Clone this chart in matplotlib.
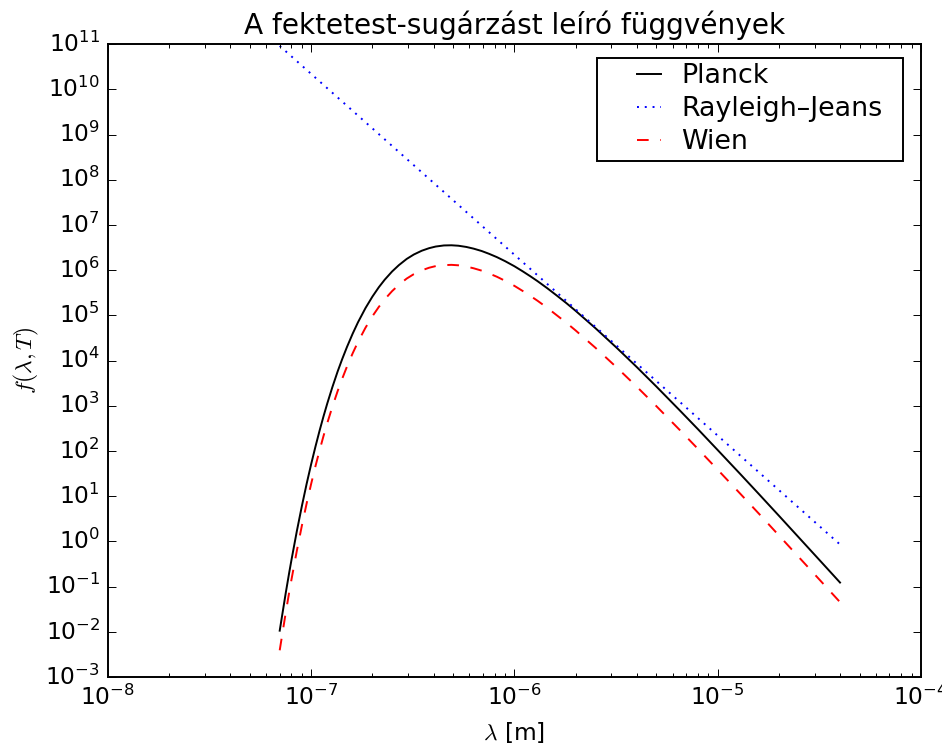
import matplotlib
matplotlib.use('Agg')
import matplotlib.pyplot as plt
from matplotlib.ticker import LogLocator
from matplotlib.legend_handler import HandlerLine2D

# wavelength grid [m]
wavelength = [7e-8, 7.5e-8, 7.8e-8, 8e-8, 8.5e-8, 9e-8, 9.5e-8, 1e-7, 1.05e-7, 1.1e-7,
              1.15e-7, 1.2e-7, 1.27e-7, 1.35e-7, 1.42e-7, 1.5e-7, 1.6e-7, 1.7e-7, 1.85e-7, 2e-7,
              2.15e-7, 2.3e-7, 2.5e-7, 2.7e-7, 2.95e-7, 3.2e-7, 3.5e-7, 3.8e-7, 4.1e-7, 4.5e-7,
              4.9e-7, 5.3e-7, 5.8e-7, 6.3e-7, 6.9e-7, 7.5e-7, 8.2e-7, 9e-7, 1e-6, 1.1e-6,
              1.2e-6, 1.3e-6, 1.45e-6, 1.6e-6, 1.8e-6, 2e-6, 2.5e-6, 3.2e-6, 4e-6, 5e-6,
              6.5e-6, 8e-6, 1e-5, 1.3e-5, 1.6e-5, 2e-5, 2.5e-5, 3.2e-5, 4e-5]

# values (log axis)
planck = [1.06e-2, 0.0735, 0.207, 0.392, 1.69, 6.08, 18.9, 51.5, 126, 283,
          585, 1127, 2553, 5770, 1.07e4, 2.0e4, 3.94e4, 7.05e4, 1.45e5, 2.59e5,
          4.17e5, 6.15e5, 9.33e5, 1.29e6, 1.77e6, 2.22e6, 2.69e6, 3.06e6, 3.33e6, 3.52e6,
          3.55e6, 3.47e6, 3.26e6, 2.99e6, 2.65e6, 2.30e6, 1.94e6, 1.58e6, 1.22e6, 9.38e5,
          7.28e5, 5.70e5, 3.99e5, 2.84e5, 1.87e5, 1.26e5, 5.24e4, 1.88e4, 7.18e3, 2.65e3,
          796, 303, 105, 30.0, 11.0, 3.71, 1.24, 0.369, 0.123]

wien = [3.9e-3, 0.0270, 0.0762, 0.144, 0.622, 2.24, 6.95, 18.9, 46.4, 104,
        215, 415, 939, 2123, 3.94e3, 7.38e3, 1.45e4, 2.59e4, 5.33e4, 9.53e4,
        1.53e5, 2.26e5, 3.43e5, 4.75e5, 6.51e5, 8.17e5, 9.90e5, 1.13e6, 1.23e6, 1.29e6,
        1.31e6, 1.28e6, 1.20e6, 1.10e6, 9.75e5, 8.46e5, 7.14e5, 5.81e5, 4.49e5, 3.45e5,
        2.68e5, 2.10e5, 1.47e5, 1.04e5, 6.88e4, 4.64e4, 1.93e4, 6.92e3, 2.64e3, 975,
        293, 111, 38.6, 11.0, 4.05, 1.36, 0.456, 0.136, 0.0453]

# the Rayleigh-Jeans line is straight on log-log axes
rj_wavelength = [7e-8, 1e-7, 1e-6, 1e-5, 4e-5]
rayleigh_jeans = [9.12e10, 2.19e10, 2.19e6, 219, 0.855]

plt.style.use('classic')

fig = plt.figure(figsize=(942 / 140, 749 / 140), dpi=140)
fig.patch.set_facecolor('white')
ax = fig.add_axes([0.1146, 0.0961, 0.863, 0.845])

l1, = ax.plot(wavelength, planck, 'k-', label='Planck')
l2, = ax.plot(rj_wavelength, rayleigh_jeans, 'b:', label='Rayleigh\u2013Jeans')
l3, = ax.plot(wavelength, wien, 'r--', label='Wien')

ax.set_xscale('log')
ax.set_yscale('log')
ax.set_xlim(1e-8, 1e-4)
ax.set_ylim(1e-3, 1e11)
ax.yaxis.set_major_locator(LogLocator(base=10, numticks=20))

ax.set_title('A fektetest-sugárzást leíró függvények')
ax.set_xlabel(r'$\lambda$ [m]')
ax.set_ylabel(r'$f(\lambda,T)$', labelpad=2)

# legend box roughly where the reference has it
hl = HandlerLine2D(xpad=1.0)
ax.legend(handles=[l1, l2, l3], loc='upper left',
          bbox_to_anchor=(0.6015, 0.5, 0.3764, 0.478), mode='expand',
          borderaxespad=0, fontsize=13.8, labelspacing=0.26,
          borderpad=0.2, handlelength=2.5, handletextpad=0.45,
          handler_map={l1: hl, l2: hl, l3: hl})

fig.savefig('out.png', dpi=140, facecolor='white')
